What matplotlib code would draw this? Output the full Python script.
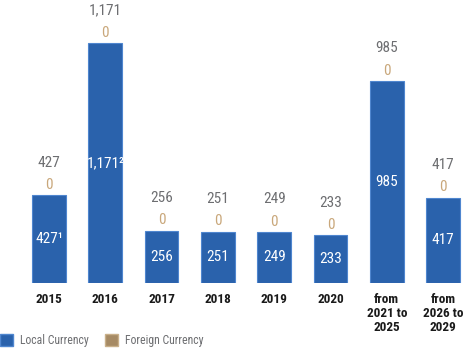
import matplotlib
matplotlib.use("Agg")
import matplotlib.pyplot as plt
import numpy as np
from matplotlib.patches import Patch

# data
categories = ['2015', '2016', '2017', '2018', '2019', '2020',
              'from\n2021 to\n2025', 'from\n2026 to\n2029']
local = [427, 1171, 256, 251, 249, 233, 985, 417]
foreign = [0, 0, 0, 0, 0, 0, 0, 0]
inner_labels = ['427¹', '1,171²', '256', '251', '249', '233', '985', '417']
total_labels = ['427', '1,171', '256', '251', '249', '233', '985', '417']

blue = '#2a62ac'
tan = '#a68a64'
grey = '#6d6e71'

plt.rcParams['font.family'] = ['Roboto Condensed', 'DejaVu Sans']

fig = plt.figure(figsize=(4.63, 3.49), dpi=100)
ax = fig.add_axes([0, 66 / 349, 1, 283 / 349])

x = np.arange(len(categories))
ax.bar(x, local, width=0.6, color=blue, edgecolor='#4f86cf', linewidth=0.8)
ax.bar(x, foreign, width=0.6, bottom=local, color=tan)

ax.set_xlim(-49 / 56.3, (463 - 49) / 56.3)
ax.set_ylim(0, 283 / 0.205)

for i in range(len(categories)):
    v = local[i]
    ax.text(x[i], v / 2, inner_labels[i], ha='center', va='center',
            color='white', fontsize=11)
    ax.annotate(str(foreign[i]), (x[i], v), xytext=(0, 7.5),
                textcoords='offset points', ha='center', va='center',
                color='#c9a77a', fontsize=11)
    ax.annotate(total_labels[i], (x[i], v), xytext=(0, 23.5),
                textcoords='offset points', ha='center', va='center',
                color=grey, fontsize=11)

ax.set_xticks(x)
ax.set_xticklabels(categories, fontweight='bold', fontsize=9.5, color='#1a1a1a',
                   linespacing=1.1)
ax.tick_params(axis='x', length=0, pad=7)
ax.set_yticks([])
for s in ax.spines.values():
    s.set_visible(False)

handles = [Patch(facecolor=blue, edgecolor='#4f86cf'),
           Patch(facecolor=tan, edgecolor='#c9b08a')]
fig.legend(handles, ['Local Currency', 'Foreign Currency'], loc='lower left',
           bbox_to_anchor=(0, 0.005), ncol=2, frameon=False, borderpad=0,
           borderaxespad=0, fontsize=8.5, labelcolor=grey, handlelength=1.1,
           handleheight=1.2, columnspacing=1.35, handletextpad=0.6)

fig.savefig('out.png', dpi=100)
